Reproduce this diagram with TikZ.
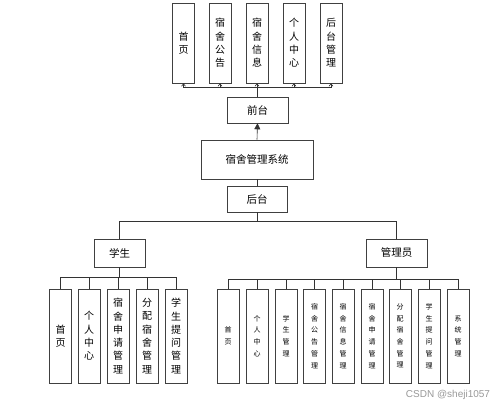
\documentclass[tikz,border=0pt]{standalone}
\usepackage{fontspec}
\newfontfamily\cjk{Noto Sans CJK SC}
\newfontfamily\wm{Liberation Sans}
\usetikzlibrary{arrows.meta}
\begin{document}
\begin{tikzpicture}[x=1pt,y=-1pt,
  line width=0.6pt,
  box/.style={draw=black!75, fill=white, inner sep=0pt, align=center, font=\cjk\fontsize{10.5pt}{13.3pt}\selectfont},
  tall/.style={box, minimum width=22pt, minimum height=80pt, font=\cjk\fontsize{10pt}{13.3pt}\selectfont},
  stu/.style={box, minimum width=22pt, minimum height=94pt, font=\cjk\fontsize{10pt}{13.3pt}\selectfont},
  adm/.style={box, minimum width=22pt, minimum height=94pt, font=\cjk\fontsize{7pt}{11.7pt}\selectfont},
  conn/.style={draw=black!80, line width=0.6pt},
  up/.style={conn, -{Straight Barb[length=2.5pt,width=4pt]}}
]
\useasboundingbox (0,0) rectangle (500,407);
\fill[white] (0,0) rectangle (500,407);

% top row
\node[tall] (t1) at (183.5,43) {首\\页};
\node[tall] (t2) at (220,43) {宿\\舍\\公\\告};
\node[tall] (t3) at (257,43) {宿\\舍\\信\\息};
\node[tall] (t4) at (294,43) {个\\人\\中\\心};
\node[tall] (t5) at (331,43) {后\\台\\管\\理};

\node[box, minimum width=61pt, minimum height=26pt] (qt) at (257.5,110) {前台};
\node[box, minimum width=112pt, minimum height=39pt] (sys) at (257,159.5) {宿舍管理系统};
\node[box, minimum width=60pt, minimum height=26pt] (ht) at (257,199) {后台};

\foreach \i in {1,...,5}{
  \draw[up] (qt.north) -- ++(0,-9) -| (t\i.south);
}
\draw[conn, -{Triangle[length=6pt,width=6pt]}] (sys.north) -- (qt.south);
\draw[conn] (sys.south) -- (ht.north);

% second level
\node[box, minimum width=51pt, minimum height=28pt] (xs) at (119.5,253) {学生};
\node[box, minimum width=61pt, minimum height=28pt] (gly) at (396.5,253) {管理员};
\draw[conn] (ht.south) -- ++(0,9) -| (xs.north);
\draw[conn] (ht.south) -- ++(0,9) -| (gly.north);

% student children
\node[stu] (s1) at (60.5,336) {首\\页};
\node[stu] (s2) at (89,336) {个\\人\\中\\心};
\node[stu] (s3) at (118,336) {宿\\舍\\申\\请\\管\\理};
\node[stu] (s4) at (147,336) {分\\配\\宿\\舍\\管\\理};
\node[stu] (s5) at (176,336) {学\\生\\提\\问\\管\\理};
\foreach \i in {1,...,5}{
  \draw[conn] (xs.south) -- ++(0,10) -| (s\i.north);
}

% admin children
\node[adm] (a1) at (228,336) {首\\页};
\node[adm] (a2) at (257,336) {个\\人\\中\\心};
\node[adm] (a3) at (286,336) {学\\生\\管\\理};
\node[adm] (a4) at (314.5,336) {宿\\舍\\公\\告\\管\\理};
\node[adm] (a5) at (343,336) {宿\\舍\\信\\息\\管\\理};
\node[adm] (a6) at (372,336) {宿\\舍\\申\\请\\管\\理};
\node[adm] (a7) at (400,336) {分\\配\\宿\\舍\\管\\理};
\node[adm] (a8) at (429,336) {学\\生\\提\\问\\管\\理};
\node[adm] (a9) at (458,336) {系\\统\\管\\理};
\foreach \i in {1,...,9}{
  \draw[conn] (gly.south) -- ++(0,12) -| (a\i.north);
}

\node[font=\wm\fontsize{10pt}{11pt}\selectfont, text=black!40, inner sep=0pt] (wmk) at (448,395) {CSDN @sheji1057};
\end{tikzpicture}
\end{document}
